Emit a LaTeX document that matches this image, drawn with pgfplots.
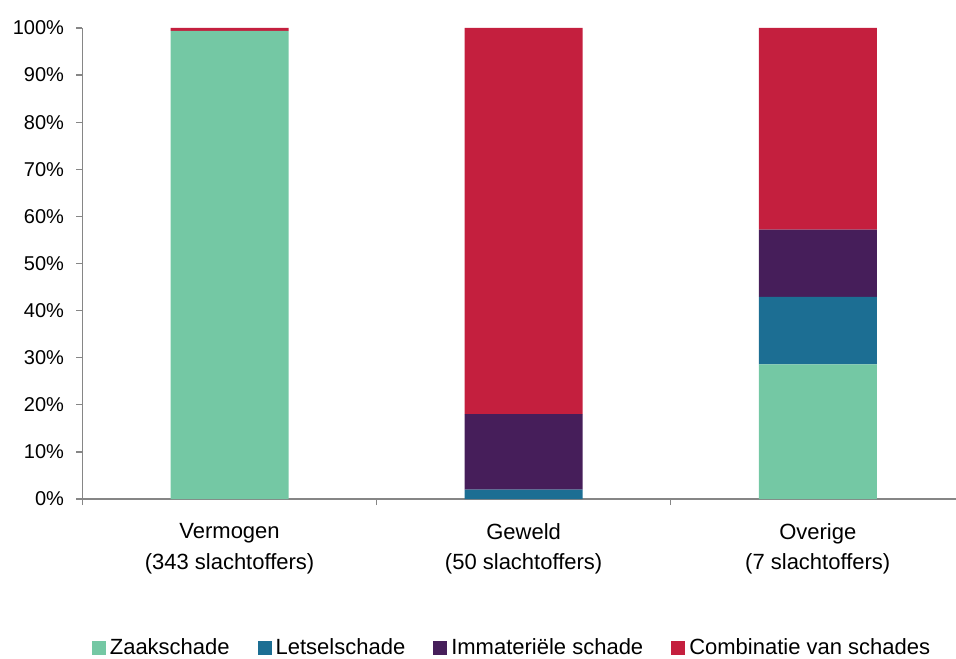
\documentclass[border=0pt]{standalone}
\usepackage{fontspec}
\setmainfont{Liberation Sans}
\usepackage{pgfplots}
\pgfplotsset{compat=1.18}
\definecolor{zaak}{HTML}{74C8A4}
\definecolor{letsel}{HTML}{1C6E93}
\definecolor{immat}{HTML}{461E5A}
\definecolor{combi}{HTML}{C41F3E}
\definecolor{axgray}{HTML}{868686}
\begin{document}
\begin{tikzpicture}
\useasboundingbox (-82.5bp,-160bp) rectangle (873.5bp,499bp);
\begin{axis}[
  at={(0,0)}, anchor=south west,
  scale only axis, width=873.5bp, height=471bp,
  xmin=-0.5, xmax=2.47, ymin=0, ymax=100,
  ybar stacked, bar width=118bp,
  axis x line*=bottom, axis y line*=left,
  axis line style={-, draw=axgray, line width=1.3bp},
  every outer x axis line/.append style={-},
  every outer y axis line/.append style={-},
  tick align=outside,
  ytick={0,10,...,100},
  yticklabel={\pgfmathprintnumber{\tick}\%},
  y tick label style={font=\fontsize{20bp}{22bp}\selectfont, xshift=-9bp},
  ytick style={draw=axgray, line width=1.3bp},
  major tick length=6bp,
  xtick={-0.5,0.5,1.5},
  xticklabels={},
  xtick style={draw=axgray, line width=1.3bp},
  extra x ticks={0,1,2},
  extra x tick labels={{Vermogen\\(343 slachtoffers)},{Geweld\\(50 slachtoffers)},{Overige\\(7 slachtoffers)}},
  extra x tick style={major tick length=0pt, tick style={draw=none},
    tick label style={align=center, font=\fontsize{22bp}{30.5bp}\selectfont, yshift=-21bp}},
  /pgf/number format/assume math mode=true,
  legend columns=4,
  legend style={draw=none, at={(0.4917,-0.3155)}, anchor=center,
    font=\fontsize{22bp}{24bp}\selectfont, inner sep=0pt,
    /tikz/every odd column/.append style={column sep=2bp},
    /tikz/every even column/.append style={column sep=26bp}},
  legend image code/.code={\fill[#1] (0bp,-7bp) rectangle (14bp,7bp);},
  every axis plot/.append style={draw=none},
]
\addplot[fill=zaak] coordinates {(0,99.4) (1,0) (2,28.6)};
\addplot[fill=letsel] coordinates {(0,0) (1,2) (2,14.3)};
\addplot[fill=immat] coordinates {(0,0) (1,16) (2,14.3)};
\addplot[fill=combi] coordinates {(0,0.6) (1,82) (2,42.8)};
\legend{Zaakschade,Letselschade,Immateriële schade,Combinatie van schades}
\end{axis}
\end{tikzpicture}
\end{document}
